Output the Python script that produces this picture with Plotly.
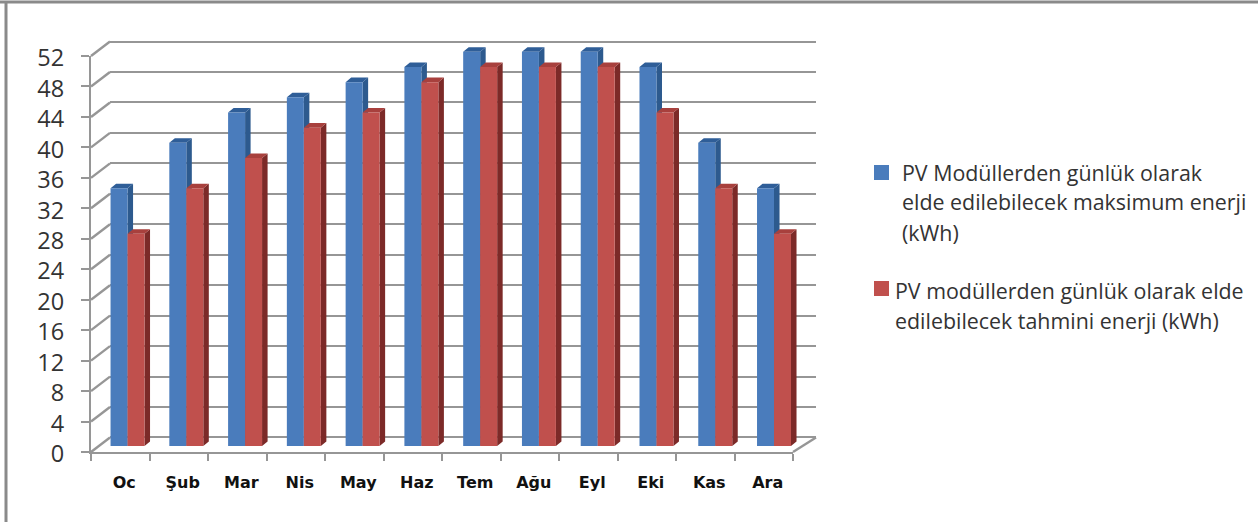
import plotly.graph_objects as go

months = ["Oc", "Şub", "Mar", "Nis", "May", "Haz", "Tem", "Ağu", "Eyl", "Eki", "Kas", "Ara"]
max_energy = [34, 40, 44, 46, 48, 50, 52, 52, 52, 50, 40, 34]
est_energy = [28, 34, 38, 42, 44, 48, 50, 50, 50, 44, 34, 28]
y_ticks = list(range(0, 53, 4))
series_max = "PV Modüllerden günlük olarak elde edilebilecek maksimum enerji (kWh)"
series_est = "PV modüllerden günlük olarak elde edilebilecek tahmini enerji (kWh)"
legend_max = ["PV Modüllerden günlük olarak", "elde edilebilecek maksimum enerji", "(kWh)"]
legend_est = ["PV modüllerden günlük olarak elde", "edilebilecek tahmini enerji (kWh)"]

W, H = 1258, 522
BLUE, BLUE_TOP, BLUE_SIDE = "#4a7cbc", "#2f5e98", "#2d5a8e"
RED, RED_TOP, RED_SIDE = "#c0504d", "#a8403d", "#7c2a28"
GRID = "#969696"
TEXT = "#333333"


def px_x(a, b):
    return [a / W, b / W]


def px_y(bottom, top):
    return [1 - bottom / H, 1 - top / H]


n = len(months)
idx = list(range(n))
xr = [-0.5, n - 0.5]
BAR_W = 0.289
DX = 0.094
DY = 0.6
bar_x = px_x(98.15, 803.4)
bar_y = px_y(446, 446 - 54 * 7.58)
WALL_K = 7.615

fig = go.Figure()


def anchor_trace(xa, ya):
    # invisible carrier so that the wall/front axes get drawn
    fig.add_trace(go.Scatter(x=idx, y=max_energy, mode="markers", marker=dict(opacity=0, size=1),
                             showlegend=False, hoverinfo="skip", xaxis=xa, yaxis=ya))


anchor_trace("x", "y")
anchor_trace("x2", "y2")
anchor_trace("x3", "y2")


def faces(values, left):
    cap_x, cap_y, side_x, side_y = [], [], [], []
    for i, v in enumerate(values):
        a = i + left
        b = a + BAR_W
        cap_x += [a, b, b + DX, a + DX, a, None]
        cap_y += [v, v, v + DY, v + DY, v, None]
        side_x += [b, b + DX, b + DX, b, b, None]
        side_y += [0, DY, v + DY, v, 0, None]
    return cap_x, cap_y, side_x, side_y


def poly(x, y, color):
    fig.add_trace(go.Scatter(x=x, y=y, mode="lines", fill="toself", fillcolor=color,
                             line=dict(width=0, color=color), showlegend=False,
                             hoverinfo="skip", xaxis="x4", yaxis="y4"))


bcx, bcy, bsx, bsy = faces(max_energy, -BAR_W)
rcx, rcy, rsx, rsy = faces(est_energy, 0)
poly(bsx, bsy, BLUE_SIDE)
poly(bcx, bcy, BLUE_TOP)
poly(rsx, rsy, RED_SIDE)
poly(rcx, rcy, RED_TOP)

fig.add_trace(go.Bar(x=idx, y=max_energy, name=series_max, marker=dict(color=BLUE, line_width=0),
                     showlegend=False, xaxis="x5", yaxis="y5"))
fig.add_trace(go.Bar(x=idx, y=est_energy, name=series_est, marker=dict(color=RED, line_width=0),
                     showlegend=False, xaxis="x5", yaxis="y5"))

hidden = dict(showgrid=False, zeroline=False, showline=False, ticks="", showticklabels=False,
              fixedrange=True, automargin=False)
fig.update_layout(
    width=W, height=H, autosize=False,
    margin=dict(l=0, r=0, t=0, b=0, pad=0, autoexpand=False),
    paper_bgcolor="white", plot_bgcolor="rgba(0,0,0,0)",
    barmode="group", bargap=0.422, bargroupgap=0, showlegend=False,
    # back wall with gridlines; range padded by one unit so the 0 and 52 lines are kept
    xaxis=dict(domain=px_x(110, 816), range=xr, anchor="y", **hidden),
    yaxis=dict(domain=px_y(437.5 + WALL_K, 41.5 - WALL_K), range=[-1, 53], anchor="x", tickvals=y_ticks,
               showgrid=True, gridcolor=GRID, gridwidth=2.4, zeroline=False, showline=False,
               ticks="", showticklabels=False, fixedrange=True),
    # front plane: axis lines, ticks, value labels
    xaxis2=dict(domain=px_x(91, 793), range=xr, anchor="y2",
                tickvals=[i - 0.5 for i in range(n + 1)], showticklabels=False,
                ticks="outside", ticklen=7, tickwidth=2, tickcolor=GRID,
                showline=True, linecolor=GRID, linewidth=2.4, showgrid=False, zeroline=False, fixedrange=True),
    yaxis2=dict(domain=px_y(452, 56), range=[0, 52], anchor="x2",
                tickvals=y_ticks, ticks="outside", ticklen=8, tickwidth=2, tickcolor=GRID,
                ticklabelstandoff=12, ticklabelshift=2,
                tickfont=dict(family="Open Sans", size=23.5, color=TEXT),
                showline=True, linecolor=GRID, linewidth=2.4, showgrid=False, zeroline=False, fixedrange=True),
    # month labels
    xaxis3=dict(domain=px_x(95, 797), range=xr, anchor="y2",
                tickvals=idx, ticktext=months, tickangle=0, ticks="outside", ticklen=16,
                tickcolor="rgba(0,0,0,0)", tickfont=dict(family="DejaVu Sans", size=16, color="#111111", weight="bold"),
                showline=False, showgrid=False, zeroline=False, fixedrange=True),
    xaxis4=dict(domain=bar_x, range=xr, anchor="y4", **hidden),
    yaxis4=dict(domain=bar_y, range=[0, 54], anchor="x4", **hidden),
    xaxis5=dict(domain=bar_x, range=xr, anchor="y5", **hidden),
    yaxis5=dict(domain=bar_y, range=[0, 54], anchor="x5", **hidden),
)

shapes = []


def line(x0, y0, x1, y1, color=GRID, width=2.4):
    shapes.append(dict(type="line", xref="paper", yref="paper", x0=x0 / W, x1=x1 / W,
                       y0=1 - y0 / H, y1=1 - y1 / H, line=dict(color=color, width=width), layer="below"))


# wall-to-front connectors, one for every value tick
for v in y_ticks:
    line(91, 452 - v * WALL_K, 110, 437.5 - v * WALL_K)
line(793, 452, 816, 437.5)
# picture frame: top and left only
line(0, 2, W, 2, "#8a8a8a", 3)
line(6, 2, 6, H, "#8a8a8a", 3)


def swatch(x0, y0, x1, y1, color):
    shapes.append(dict(type="rect", xref="paper", yref="paper", x0=x0 / W, x1=x1 / W,
                       y0=1 - y0 / H, y1=1 - y1 / H, fillcolor=color, line_width=0))


swatch(874, 165, 889, 180, BLUE)
swatch(874, 281, 889, 296, RED)
fig.update_layout(shapes=shapes)

anns = []
for label, x, y in [(legend_max[0], 901, 172), (legend_max[1], 901, 202), (legend_max[2], 901, 232),
                    (legend_est[0], 894, 290), (legend_est[1], 894, 320)]:
    anns.append(dict(text=label, xref="paper", yref="paper", x=x / W, y=1 - y / H, xanchor="left",
                     yanchor="middle", showarrow=False, align="left", borderpad=0,
                     font=dict(family="Open Sans", size=21.4, color=TEXT)))
fig.update_layout(annotations=anns)

fig.write_html("out.html", config=dict(displayModeBar=False),
               post_script="document.body.style.margin='0';document.body.style.overflow='hidden';")
